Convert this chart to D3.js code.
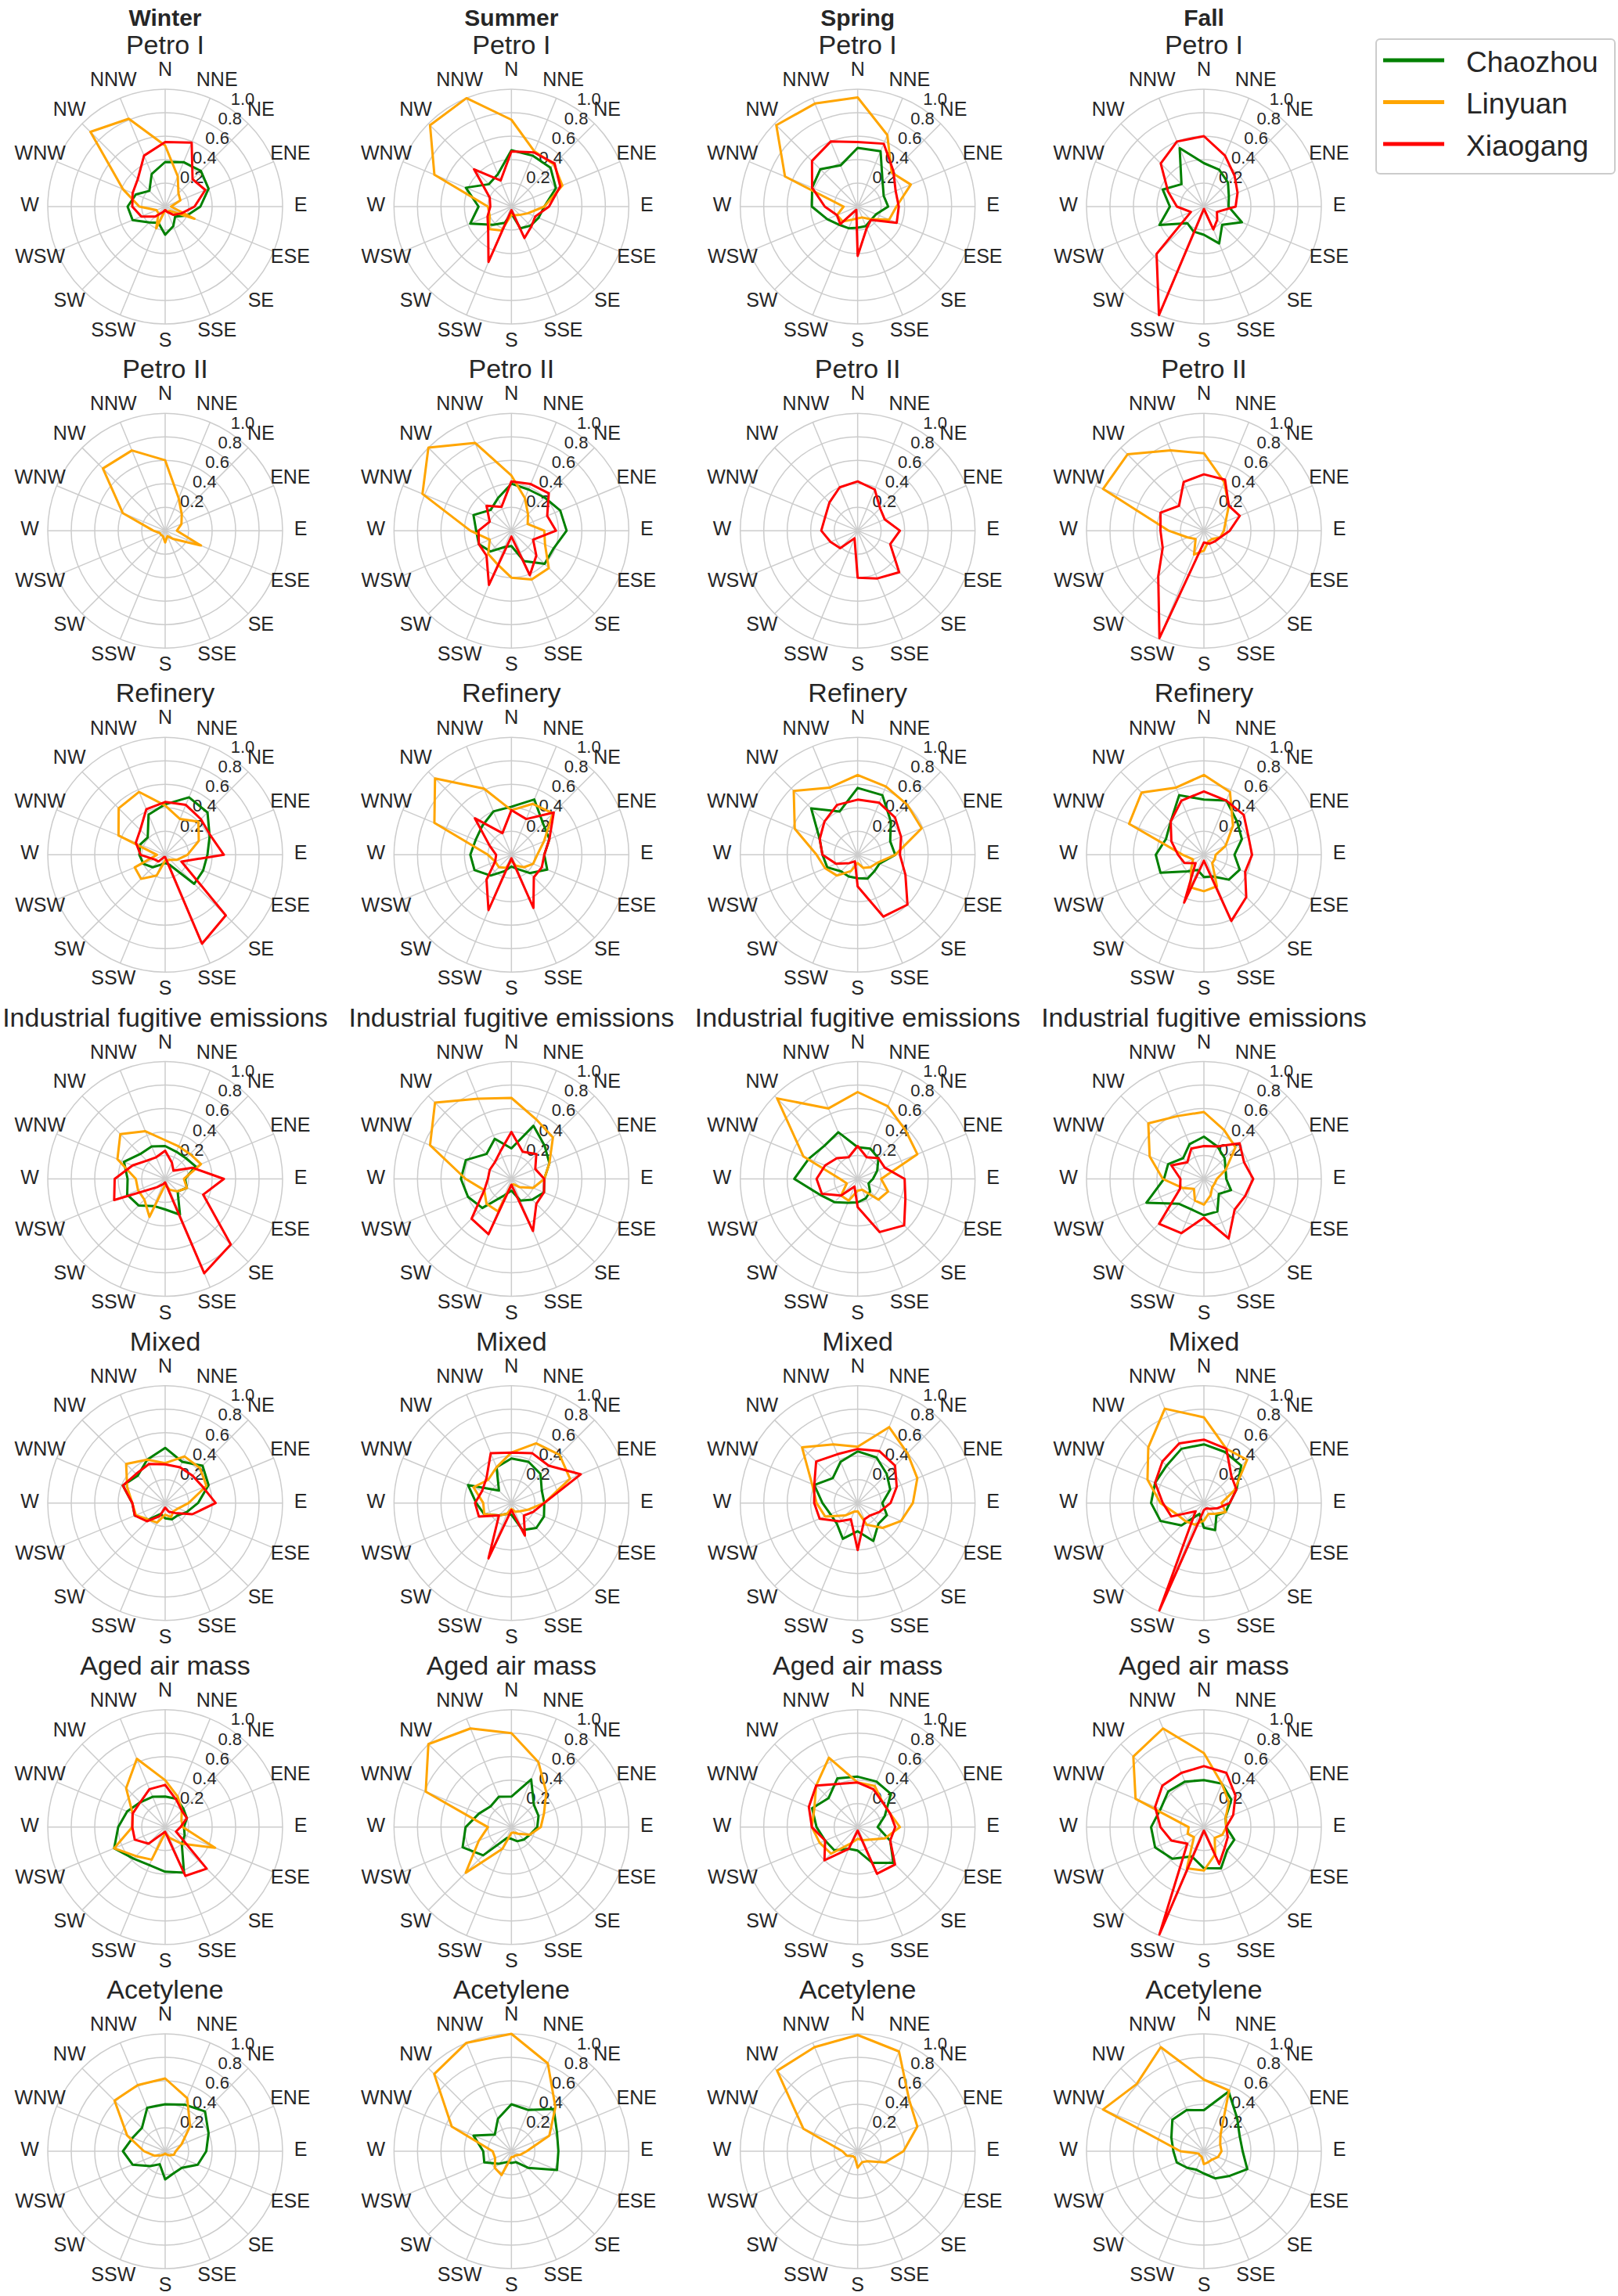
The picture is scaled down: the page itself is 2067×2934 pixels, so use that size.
<!DOCTYPE html>
<html>
<head>
<meta charset="utf-8">
<script src="https://cdn.jsdelivr.net/npm/d3@7"></script>
<style>
  body { margin: 0; background: #fff; }
  text { font-family: "Liberation Sans", Arial, sans-serif; fill: #262626; }
</style>
</head>
<body>
<svg id="chart" width="2067" height="2934"></svg>
<script>
const seasons = ['Winter', 'Summer', 'Spring', 'Fall'];
const sources = ['Petro I', 'Petro II', 'Refinery', 'Industrial fugitive emissions', 'Mixed', 'Aged air mass', 'Acetylene'];
const directions = ['N', 'NNE', 'NE', 'ENE', 'E', 'ESE', 'SE', 'SSE', 'S', 'SSW', 'SW', 'WSW', 'W', 'WNW', 'NW', 'NNW'];
const sites = ['Chaozhou', 'Linyuan', 'Xiaogang'];
const siteColors = ['#008000', '#ffa500', '#ff0000'];
const rTicks = [0.2, 0.4, 0.6, 0.8, 1.0];

// one array per season and site: one row of 16 directions per source, null = not plotted
const winterChaozhou = [
    [.38, .41, .43, .40, .30, .20, .12, .18, .24, .15, .19, .30, .32, .27, .19, .30],
    null,
    [.43, .53, .51, .41, .36, .35, .35, .09, .07, .09, .15, .20, .22, .23, .21, .37],
    [.28, .25, .25, .28, .17, .20, .15, .33, .26, .25, .32, .35, .32, .38, .30, .30],
    [.47, .38, .45, .40, .28, .20, .15, .15, .13, .10, .20, .28, .28, .39, .33, .40],
    [.26, .26, .22, .20, .16, .18, .20, .42, .38, .35, .38, .47, .40, .35, .30, .28],
    [.40, .43, .48, .40, .35, .30, .20, .20, .24, .12, .18, .30, .36, .30, .28, .40]
];
const winterLinyuan = [
    [.52, .28, .16, .14, .05, .27, .05, .05, .03, .20, .08, .08, .22, .39, .90, .81],
    [.60, .30, .20, .15, .10, .33, .10, .05, .10, .05, .05, .05, .10, .39, .75, .74],
    [.42, .33, .40, .31, .19, .11, .06, .05, .05, .19, .29, .28, .07, .43, .56, .58],
    [.33, .30, .30, .33, .16, .20, .15, .10, .05, .35, .25, .25, .25, .44, .54, .44],
    [.34, .43, .42, .38, .20, .12, .10, .13, .10, .18, .20, .27, .28, .35, .47, .40],
    [.40, .28, .20, .15, .15, .46, .20, .10, .05, .30, .35, .47, .28, .30, .47, .63],
    [.62, .49, .30, .15, .09, .08, .05, .03, .02, .03, .05, .10, .18, .35, .61, .61]
];
const winterXiaogang = [
    [.55, .59, .33, .37, .25, .15, .10, .05, .03, .05, .12, .22, .28, .30, .33, .47],
    null,
    [.45, .46, .43, .42, .50, .15, .73, .82, .02, .02, .08, .10, .21, .27, .30, .42],
    [.24, .15, .10, .25, .50, .35, .79, .87, .03, .05, .10, .47, .43, .30, .22, .20],
    [.33, .33, .33, .35, .43, .25, .12, .08, .04, .12, .22, .28, .28, .39, .35, .36],
    [.36, .25, .20, .20, .13, .10, .50, .45, .04, .06, .20, .28, .28, .30, .30, .35],
    null
];
const summerChaozhou = [
    [.48, .47, .47, .41, .28, .25, .23, .20, .06, .15, .22, .38, .28, .42, .27, .30],
    [.40, .38, .40, .45, .47, .39, .40, .28, .13, .15, .25, .30, .30, .35, .25, .30],
    [.41, .51, .38, .35, .28, .33, .22, .13, .10, .15, .25, .34, .35, .33, .35, .40],
    [.26, .49, .40, .35, .28, .30, .25, .20, .10, .15, .35, .40, .43, .42, .30, .37],
    [.38, .38, .35, .28, .28, .30, .30, .25, .10, .10, .15, .25, .30, .40, .15, .33],
    [.26, .44, .27, .25, .22, .17, .15, .13, .10, .10, .34, .45, .39, .30, .25, .28],
    [.40, .38, .51, .42, .40, .42, .20, .10, .10, .10, .15, .25, .24, .35, .20, .30]
];
const summerLinyuan = [
    [.74, .51, .51, .47, .28, .15, .10, .08, .07, .22, .27, .20, .20, .71, .98, 1.0],
    [.47, .30, .20, .15, .28, .31, .45, .45, .40, .31, .28, .20, .35, .82, 1.0, .81],
    [.38, .47, .50, .30, .22, .20, .15, .10, .05, .12, .15, .15, .20, .71, .92, .61],
    [.69, .55, .50, .35, .28, .20, .10, .05, .05, .30, .30, .25, .39, .75, .92, .74],
    [.43, .55, .58, .54, .28, .15, .10, .08, .05, .10, .15, .25, .24, .35, .28, .33],
    [.80, .60, .42, .30, .25, .17, .08, .05, .05, .20, .55, .30, .20, .79, 1.0, .91],
    [1.0, .81, .53, .35, .13, .08, .05, .05, .05, .22, .20, .15, .16, .55, .93, 1.0]
];
const summerXiaogang = [
    [.47, .50, .52, .45, .32, .22, .24, .29, .03, .51, .28, .22, .18, .20, .45, .24],
    [.42, .43, .45, .33, .38, .20, .30, .41, .05, .50, .30, .30, .28, .20, .30, .22],
    [.38, .33, .51, .35, .28, .28, .27, .49, .03, .51, .30, .15, .13, .20, .44, .20],
    [.40, .25, .30, .22, .28, .30, .30, .48, .05, .51, .48, .25, .20, .20, .20, .25],
    [.43, .46, .45, .64, .28, .20, .15, .30, .06, .51, .15, .30, .31, .27, .30, .46],
    null,
    null
];
const springChaozhou = [
    [.50, .51, .30, .24, .26, .17, .16, .18, .18, .20, .22, .28, .39, .42, .45, .38],
    null,
    [.57, .55, .40, .30, .32, .20, .20, .22, .20, .20, .20, .28, .30, .35, .56, .40],
    [.27, .28, .25, .18, .13, .10, .15, .18, .20, .22, .28, .35, .54, .45, .40, .43],
    [.44, .42, .35, .30, .21, .27, .25, .35, .24, .33, .25, .25, .30, .40, .30, .38],
    [.43, .42, .40, .25, .17, .30, .43, .33, .20, .20, .28, .30, .35, .42, .35, .45],
    null
];
const springLinyuan = [
    [.93, .66, .41, .49, .33, .29, .15, .10, .10, .12, .18, .19, .12, .67, .98, .95],
    null,
    [.68, .63, .60, .59, .32, .18, .15, .12, .07, .15, .25, .30, .35, .58, .77, .62],
    [.74, .67, .58, .55, .20, .28, .25, .10, .10, .20, .20, .10, .15, .50, .97, .65],
    [.48, .70, .60, .55, .47, .40, .30, .20, .07, .08, .15, .30, .35, .42, .67, .54],
    [.38, .38, .30, .30, .36, .25, .15, .12, .10, .15, .32, .35, .39, .40, .50, .64],
    [.99, .92, .62, .55, .39, .25, .12, .10, .14, .06, .06, .10, .13, .50, .97, .96]
];
const springXiaogang = [
    [.55, .58, .43, .35, .35, .36, .16, .20, .42, .03, .21, .19, .28, .42, .55, .60],
    [.42, .38, .27, .25, .36, .30, .50, .44, .40, .07, .21, .25, .31, .30, .34, .40],
    [.47, .48, .45, .40, .36, .44, .60, .57, .27, .06, .10, .20, .30, .35, .40, .46],
    [.28, .20, .25, .25, .40, .44, .56, .49, .24, .07, .20, .33, .35, .30, .25, .20],
    [.46, .48, .45, .36, .28, .20, .15, .15, .40, .15, .22, .35, .37, .40, .50, .45],
    [.38, .35, .30, .30, .32, .30, .45, .43, .03, .20, .40, .30, .39, .45, .50, .40],
    null
];
const fallChaozhou = [
    [.37, .34, .29, .23, .21, .35, .22, .34, .24, .23, .20, .41, .29, .38, .27, .54],
    null,
    [.47, .50, .40, .35, .26, .33, .30, .20, .19, .14, .20, .40, .41, .35, .40, .55],
    [.36, .30, .25, .20, .19, .25, .18, .30, .31, .28, .30, .53, .34, .33, .25, .32],
    [.50, .47, .45, .30, .22, .20, .15, .25, .21, .10, .27, .40, .45, .45, .45, .50],
    [.40, .40, .33, .20, .19, .28, .28, .38, .35, .27, .38, .45, .45, .40, .43, .42],
    [.35, .55, .40, .33, .33, .40, .30, .25, .19, .17, .20, .25, .26, .30, .38, .38]
];
const fallLinyuan = [
    null,
    [.66, .45, .30, .20, .17, .15, .10, .10, .17, .22, .10, .15, .30, .93, .92, .74],
    [.68, .58, .35, .20, .10, .10, .10, .29, .31, .30, .15, .10, .18, .69, .75, .62],
    [.57, .45, .38, .20, .11, .10, .10, .15, .22, .20, .12, .20, .35, .50, .67, .58],
    [.73, .50, .52, .28, .15, .20, .13, .10, .15, .20, .22, .25, .37, .52, .67, .87],
    [.63, .40, .30, .20, .19, .17, .13, .25, .37, .38, .12, .15, .13, .63, .85, .91],
    [.61, .56, .20, .15, .15, .13, .10, .10, .11, .05, .05, .05, .20, .93, .81, .96]
];
const fallXiaogang = [
    [.60, .47, .37, .31, .27, .12, .16, .21, .02, 1.0, .57, .12, .23, .33, .52, .60],
    [.48, .47, .30, .33, .22, .15, .13, .12, .10, .99, .55, .38, .37, .40, .30, .45],
    [.54, .50, .48, .41, .41, .38, .51, .61, .05, .44, .10, .18, .22, .30, .40, .50],
    [.28, .30, .43, .37, .42, .38, .37, .55, .33, .50, .54, .22, .20, .30, .20, .28],
    [.54, .50, .33, .30, .22, .12, .07, .05, .06, .99, .10, .30, .35, .45, .50, .55],
    [.52, .50, .38, .27, .19, .22, .25, .34, .03, .99, .20, .30, .37, .45, .50, .50],
    null
];

const seasonSeries = {
    Winter: [winterChaozhou, winterLinyuan, winterXiaogang],
    Summer: [summerChaozhou, summerLinyuan, summerXiaogang],
    Spring: [springChaozhou, springLinyuan, springXiaogang],
    Fall: [fallChaozhou, fallLinyuan, fallXiaogang]
};

const svg = d3.select('#chart');
svg.append('rect').attr('width', 2067).attr('height', 2934).attr('fill', '#fff');

const R = 150,
    colX = d3.scaleLinear().domain([0, 3]).range([211, 1538]),
    rowY = d3.scaleLinear().domain([0, 6]).range([264, 2749]),
    rScale = d3.scaleLinear().domain([0, 1]).range([0, R]),
    angle = d3.scaleLinear().domain([0, directions.length]).range([0, 2 * Math.PI]);

const radial = d3.lineRadial()
    .angle((d, i) => angle(i))
    .radius(d => rScale(d))
    .curve(d3.curveLinearClosed);

// season headers
seasons.forEach((s, j) => {
    svg.append('text')
        .attr('x', colX(j))
        .attr('y', 22)
        .attr('text-anchor', 'middle')
        .attr('dominant-baseline', 'central')
        .style('font-size', '30px')
        .style('font-weight', 'bold')
        .text(s);
});

seasons.forEach((season, j) => {
    sources.forEach((source, i) => {
        const cx = colX(j), cy = rowY(i);
        const g = svg.append('g').attr('transform', `translate(${cx},${cy})`);

        // grid
        g.selectAll('.ring').data(rTicks).enter()
            .append('circle')
            .attr('r', d => rScale(d))
            .attr('fill', 'none')
            .attr('stroke', '#cccccc')
            .attr('stroke-width', 1.5);

        g.selectAll('.spoke').data(directions).enter()
            .append('line')
            .attr('x2', (d, k) => R * Math.sin(angle(k)))
            .attr('y2', (d, k) => -R * Math.cos(angle(k)))
            .attr('stroke', '#cccccc')
            .attr('stroke-width', 1.5);

        // direction labels
        g.selectAll('.dir').data(directions).enter()
            .append('text')
            .attr('x', (d, k) => 173 * Math.sin(angle(k)))
            .attr('y', (d, k) => -173 * Math.cos(angle(k)) - 3)
            .attr('text-anchor', 'middle')
            .attr('dominant-baseline', 'central')
            .style('font-size', '25px')
            .text(d => d);

        // radial tick labels
        g.selectAll('.rlab').data(rTicks).enter()
            .append('text')
            .attr('x', d => 18 + 81 * d)
            .attr('y', d => -12 - 126 * d)
            .attr('text-anchor', 'middle')
            .attr('dominant-baseline', 'central')
            .style('font-size', '22px')
            .text(d => d.toFixed(1));

        // series
        seasonSeries[season].forEach((siteRows, s) => {
            const values = siteRows[i];
            if (values === null) return;
            g.append('path')
                .attr('d', radial(values))
                .attr('fill', 'none')
                .attr('stroke', siteColors[s])
                .attr('stroke-width', 3)
                .attr('stroke-linejoin', 'round');
        });

        // title
        svg.append('text')
            .attr('x', cx)
            .attr('y', cy - 207)
            .attr('text-anchor', 'middle')
            .attr('dominant-baseline', 'central')
            .style('font-size', '34px')
            .text(source);
    });
});

// Legend
const legend = svg.append('g');
legend.append('rect')
    .attr('x', 1758).attr('y', 50)
    .attr('width', 305).attr('height', 172)
    .attr('rx', 5)
    .attr('fill', '#fff')
    .attr('stroke', '#cccccc')
    .attr('stroke-width', 2);

sites.forEach((site, s) => {
    const y = 77 + s * 53.5;
    legend.append('line')
        .attr('x1', 1767).attr('x2', 1845)
        .attr('y1', y).attr('y2', y)
        .attr('stroke', siteColors[s])
        .attr('stroke-width', 5);
    legend.append('text')
        .attr('x', 1873)
        .attr('y', y + 2)
        .attr('dominant-baseline', 'central')
        .style('font-size', '37px')
        .text(site);
});
</script>
</body>
</html>
